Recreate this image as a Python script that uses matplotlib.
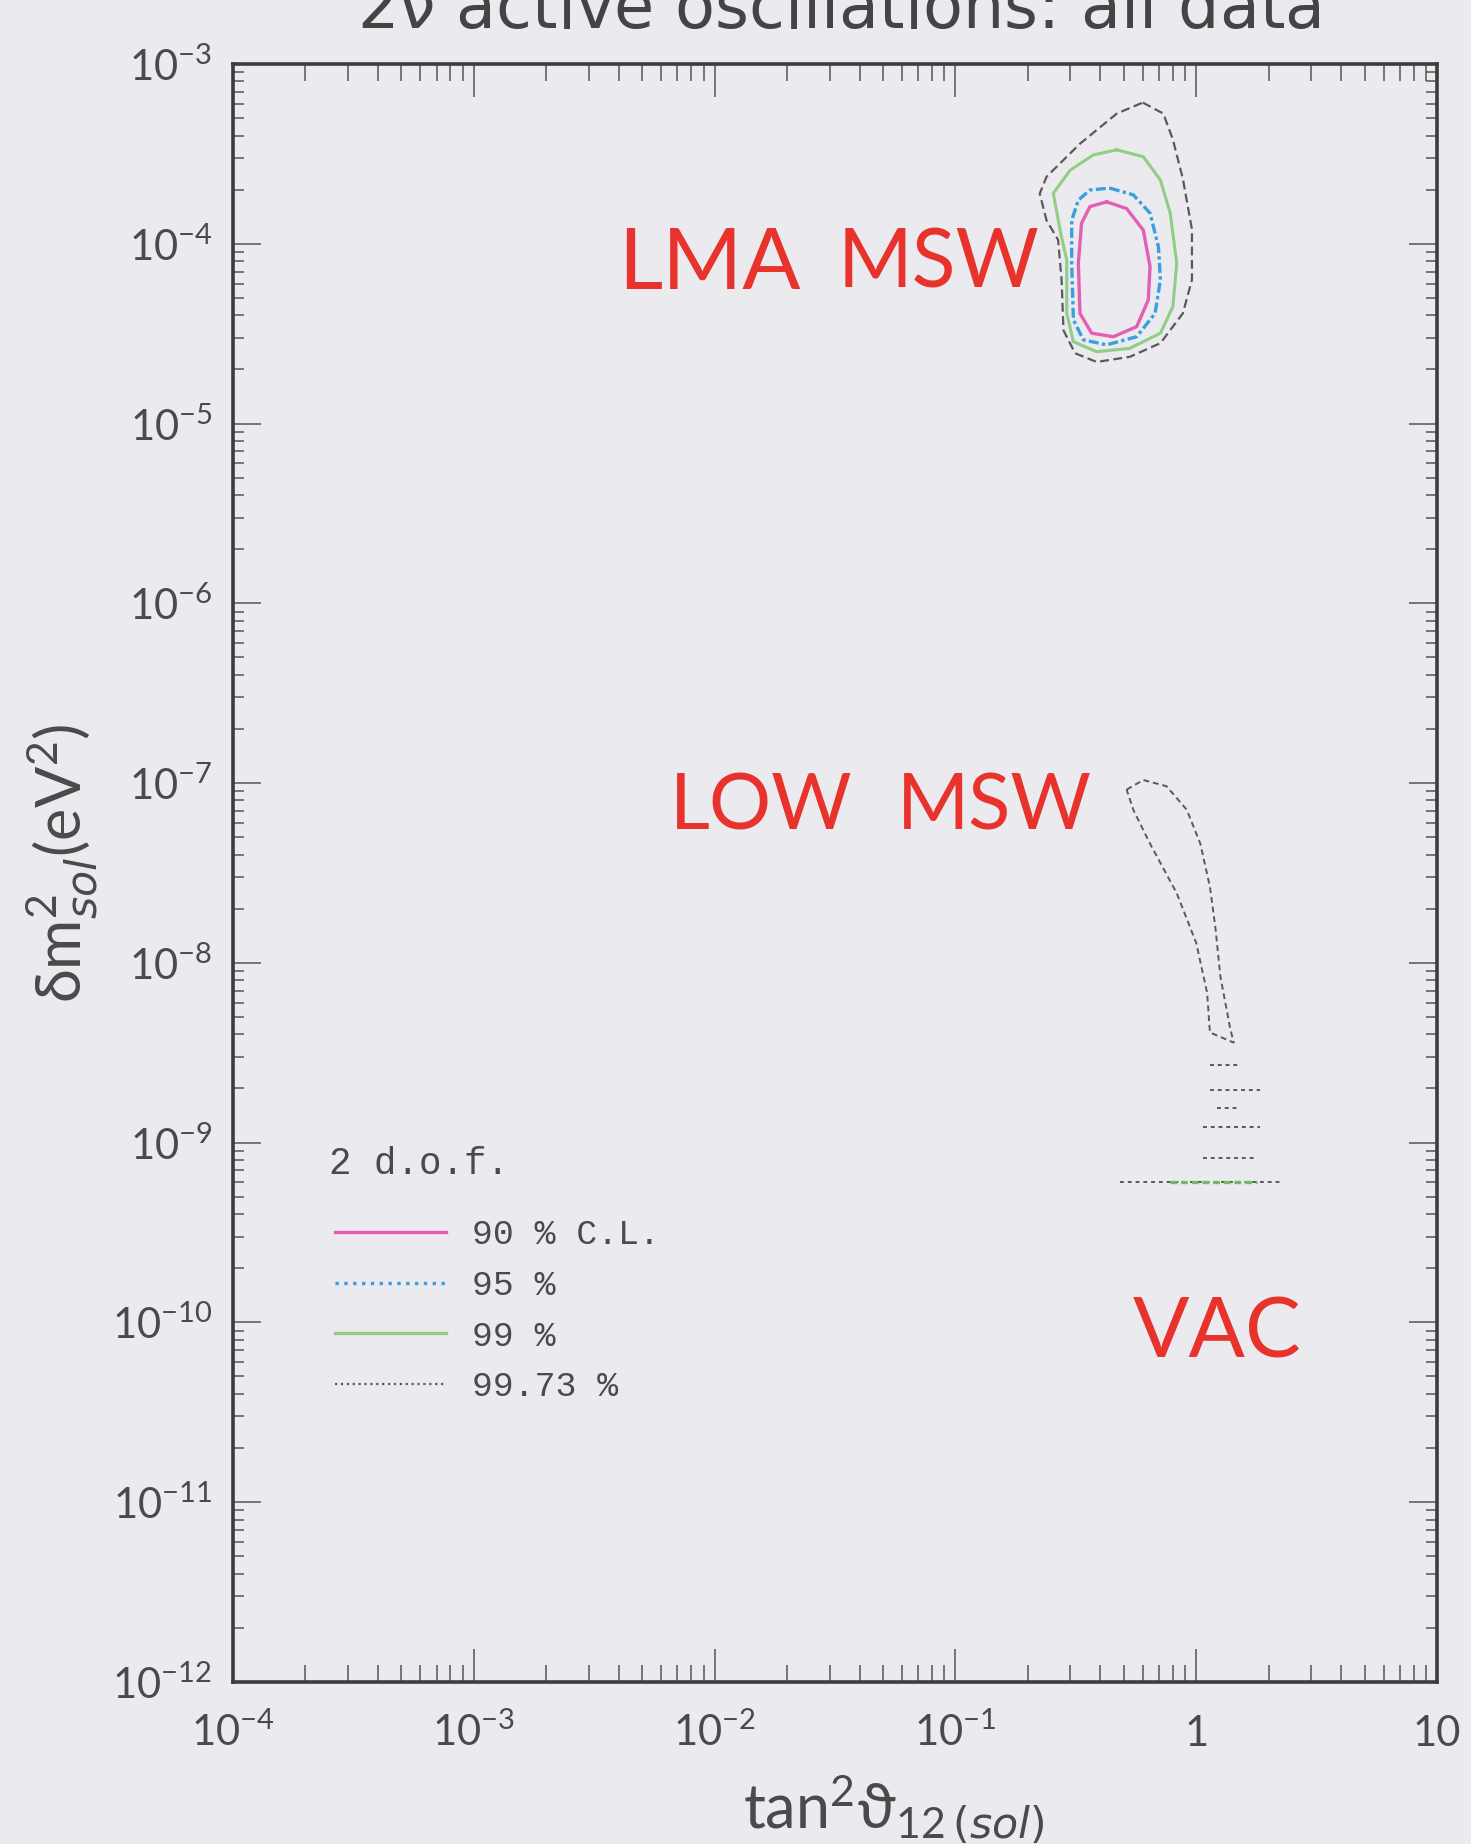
import numpy as np
import matplotlib
matplotlib.use("Agg")
import matplotlib.pyplot as plt
from matplotlib.ticker import FixedLocator, LogLocator, NullFormatter
from matplotlib.lines import Line2D

# -----------------------
# Contours (tan^2 theta, delta m^2 in eV^2)
# -----------------------

# LMA MSW island
lma_tan2_90 = [0.425, 0.514, 0.603, 0.643, 0.632, 0.566, 0.453, 0.368, 0.329, 0.324, 0.334, 0.362, 0.425]
lma_dm2_90 = [1.71e-4, 1.57e-4, 1.19e-4, 7.46e-5, 4.86e-5, 3.46e-5, 3.04e-5, 3.18e-5, 4.1e-5, 7.8e-5, 1.30e-4, 1.61e-4, 1.71e-4]

lma_tan2_95 = [0.438, 0.548, 0.643, 0.697, 0.71, 0.675, 0.566, 0.425, 0.34, 0.309, 0.304, 0.304, 0.324, 0.362, 0.438]
lma_dm2_95 = [2.04e-4, 1.87e-4, 1.48e-4, 9.6e-5, 6.3e-5, 4.1e-5, 3.04e-5, 2.74e-5, 2.92e-5, 3.77e-5, 7.8e-5, 1.35e-4, 1.75e-4, 1.99e-4, 2.04e-4]

lma_tan2_99 = [0.468, 0.603, 0.71, 0.78, 0.83, 0.80, 0.71, 0.53, 0.386, 0.309, 0.29, 0.29, 0.272, 0.255, 0.30, 0.374, 0.468]
lma_dm2_99 = [3.33e-4, 3.05e-4, 2.26e-4, 1.48e-4, 7.8e-5, 4.47e-5, 3.18e-5, 2.62e-5, 2.51e-5, 2.85e-5, 4.1e-5, 8.1e-5, 1.19e-4, 1.91e-4, 2.57e-4, 3.12e-4, 3.33e-4]

lma_tan2_9973 = [0.60, 0.73, 0.80, 0.88, 0.96, 0.96, 0.88, 0.71, 0.53, 0.386, 0.314, 0.281, 0.276, 0.267, 0.239, 0.224, 0.239, 0.329, 0.468, 0.60]
lma_dm2_9973 = [6.1e-4, 5.3e-4, 3.8e-4, 2.3e-4, 1.2e-4, 6.3e-5, 4.1e-5, 2.8e-5, 2.35e-5, 2.2e-5, 2.46e-5, 3.3e-5, 6.3e-5, 1.05e-4, 1.35e-4, 1.9e-4, 2.36e-4, 3.6e-4, 5.3e-4, 6.1e-4]

# LOW MSW tongue (99.73 % only)
low_tan2_9973 = [0.514, 0.603, 0.753, 0.914, 1.04, 1.14, 1.20, 1.26, 1.38, 1.43, 1.14, 1.11, 1.0, 0.83, 0.643, 0.548, 0.514]
low_dm2_9973 = [9.2e-8, 1.04e-7, 9.6e-8, 7.1e-8, 4.6e-8, 2.65e-8, 1.59e-8, 8.4e-9, 4.4e-9, 3.6e-9, 4.1e-9, 6.8e-9, 1.29e-8, 2.44e-8, 4.6e-8, 7.1e-8, 9.2e-8]

# small quasi-vacuum fragments below LOW
vac_dm2 = [2.7e-9, 1.97e-9, 1.56e-9, 1.22e-9, 8.2e-10, 6.05e-10]
vac_tan2_lo = [1.14, 1.14, 1.22, 1.07, 1.07, 0.483]
vac_tan2_hi = [1.52, 1.84, 1.47, 1.84, 1.79, 2.29]
vac99_dm2 = 6.05e-10
vac99_tan2 = [0.78, 1.79]

x_ticks = [1e-4, 1e-3, 1e-2, 1e-1, 1, 10]
x_tick_labels = [r'$10^{-4}$', r'$10^{-3}$', r'$10^{-2}$', r'$10^{-1}$', '1', '10']
y_ticks = [10.0 ** k for k in range(-12, -2)]
y_tick_labels = [r'$10^{%d}$' % k for k in range(-12, -2)]

cl_labels = ['90 % C.L.', '95 %', '99 %', '99.73 %']

# -----------------------
# Styling
# -----------------------
bg = '#eaeaef'
ink = '#4a4a4a'
red = '#e8322c'
c90, c95, c99, c9973 = '#e45fb4', '#3a9ee0', '#8fcf85', '#5a5a5a'
ls90, ls95, ls99, ls9973 = '-', (0, (3, 1, 1, 1)), '-', (0, (4, 2))
mono = ['Liberation Mono', 'DejaVu Sans Mono']

plt.rcParams['font.family'] = ['Lato', 'DejaVu Sans']
plt.rcParams['mathtext.default'] = 'regular'

fig = plt.figure(figsize=(14.71, 18.44), dpi=100)
fig.patch.set_facecolor(bg)
ax = fig.add_axes([0.1584, 0.0879, 0.8185, 0.8774])
ax.set_facecolor(bg)

ax.set_xscale('log')
ax.set_yscale('log')
ax.set_xlim(1e-4, 10)
ax.set_ylim(1e-12, 1e-3)

# contours
ax.plot(lma_tan2_9973, lma_dm2_9973, color=c9973, ls=ls9973, lw=1.6)
ax.plot(lma_tan2_99, lma_dm2_99, color=c99, ls=ls99, lw=2.2)
ax.plot(lma_tan2_95, lma_dm2_95, color=c95, ls=ls95, lw=2.4)
ax.plot(lma_tan2_90, lma_dm2_90, color=c90, ls=ls90, lw=2.4)
ax.plot(low_tan2_9973, low_dm2_9973, color=c9973, ls=(0, (3, 2)), lw=1.4)
ax.hlines(vac_dm2, vac_tan2_lo, vac_tan2_hi, colors=c9973, linestyles=[(0, (2, 2))], lw=1.4)
ax.hlines(vac99_dm2, vac99_tan2[0], vac99_tan2[1], colors='#6cbf5e', linestyles=[(0, (2, 1.2))], lw=2.4)

# region names (hand lettered in the original)
red_kw = dict(color=red, family=['Lato', 'DejaVu Sans'], fontweight='normal',
              ha='center', va='center', transform=ax.transAxes)
ax.text(0.396, 0.876, 'LMA', fontsize=62, **red_kw)
ax.text(0.586, 0.876, 'MSW', fontsize=58, **red_kw)
ax.text(0.439, 0.540, 'LOW', fontsize=56, **red_kw)
ax.text(0.632, 0.540, 'MSW', fontsize=56, **red_kw)
ax.text(0.817, 0.2145, 'VAC', fontsize=60, **red_kw)

# legend
ax.text(0.080, 0.320, '2 d.o.f.', transform=ax.transAxes, family=mono, fontsize=27,
        color=ink, ha='left', va='center')
handles = [Line2D([], [], color=c90, ls='-', lw=2.4),
           Line2D([], [], color=c95, ls=':', lw=2.4),
           Line2D([], [], color=c99, ls='-', lw=2.4),
           Line2D([], [], color=c9973, ls=':', lw=1.6)]
leg = ax.legend(handles, cl_labels, loc='upper left',
                bbox_to_anchor=(0.0847, 0.2866), frameon=False,
                prop={'family': mono, 'size': 25},
                handlelength=3.2, handletextpad=0.75, labelspacing=0.51,
                borderpad=0, borderaxespad=0)
for t in leg.get_texts():
    t.set_color(ink)

# axes, ticks
for s in ax.spines.values():
    s.set_linewidth(2.6)
    s.set_color('#3c3c3c')

ax.xaxis.set_major_locator(FixedLocator(x_ticks))
ax.xaxis.set_minor_locator(LogLocator(base=10, subs=np.arange(2, 10), numticks=100))
ax.yaxis.set_major_locator(FixedLocator(y_ticks))
ax.yaxis.set_minor_locator(LogLocator(base=10, subs=np.arange(2, 10), numticks=100))
ax.xaxis.set_minor_formatter(NullFormatter())
ax.yaxis.set_minor_formatter(NullFormatter())
ax.set_xticklabels(x_tick_labels)
ax.set_yticklabels(y_tick_labels)

ax.tick_params(which='both', direction='in', top=True, right=True, colors='#555555',
               labelcolor=ink, width=1.1)
ax.tick_params(axis='x', which='major', length=24, labelsize=30, pad=46)
ax.tick_params(axis='x', which='minor', length=12)
ax.tick_params(axis='y', which='major', length=20, labelsize=30, pad=15)
ax.tick_params(axis='y', which='minor', length=8)
for lbl in ax.get_xticklabels():
    lbl.set_verticalalignment('baseline')

ax.set_xlabel(r'$tan^2\vartheta_{12\,\mathit{(sol)}}$', fontsize=44, color=ink)
ax.xaxis.set_label_coords(0.549, -0.056)
ax.set_ylabel(r'$\delta m^2_{\mathit{sol}}(eV^2)$', fontsize=44, color=ink)
ax.yaxis.set_label_coords(-0.142, 0.506)
ax.yaxis.label.set_va('center')

# title sits partly above the scanned page edge, as in the original
fig.text(0.570, 0.985, r'2$\nu$ active oscillations: all data', fontsize=47,
         color='#444444', ha='center', va='baseline', family=['DejaVu Sans'])

fig.savefig('out.png', dpi=100, facecolor=bg)
